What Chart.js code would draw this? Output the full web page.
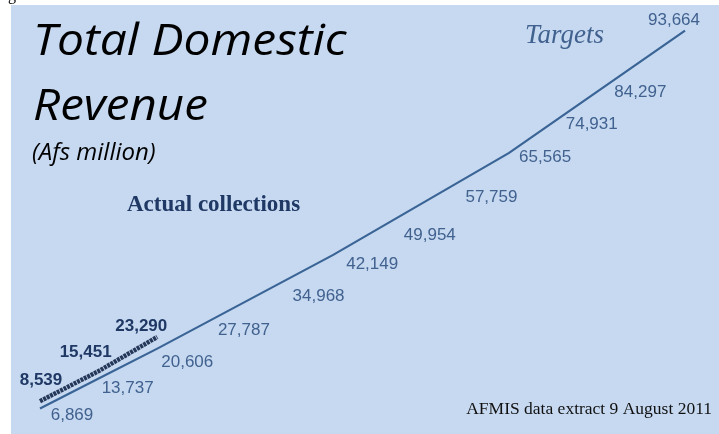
<!DOCTYPE html>
<html>
<head>
<meta charset="utf-8">
<script src="https://cdn.jsdelivr.net/npm/chart.js@4.4.0/dist/chart.umd.min.js"></script>
<style>
  html, body { margin: 0; padding: 0; background: #fff; }
  #wrap { width: 719px; height: 434px; position: relative; }
</style>
</head>
<body>
<div id="wrap"><canvas id="revenueChart" width="719" height="434"></canvas></div>
<script>
// periods along the x axis (12 target steps, actuals cover the first 3)
const periods = ['1', '2', '3', '4', '5', '6', '7', '8', '9', '10', '11', '12'];
const targets = [6869, 13737, 20606, 27787, 34968, 42149, 49954, 57759, 65565, 74931, 84297, 93664];
const actuals = [8539, 15451, 23290];

// where each value label sits relative to its point (px)
const targetLabelShift = [[32, 7], [29, 10], [30, 14], [28, 13], [44, 10], [39, 9], [38, 14], [41, 10], [36, 4], [24, 12], [14, 21], [-11, -10]];
const actualLabelShift = [[1, -21], [-13, -19], [-16, -11]];

const fmt = v => v.toLocaleString('en-US');

const panel = {
    id: 'panel',
    beforeDraw(chart) {
        const c = chart.ctx;
        c.save();
        c.fillStyle = '#ffffff';
        c.fillRect(0, 0, chart.width, chart.height);
        c.fillStyle = '#c6d9f0';
        c.fillRect(11, 5, chart.width - 11, chart.height - 5);
        // tail of a letter from the line above
        c.fillStyle = '#000';
        c.font = '16px "Liberation Serif"';
        c.textBaseline = 'alphabetic';
        c.fillText('g', 8, 0);
        c.restore();
    },
    afterDatasetsDraw(chart) {
        const c = chart.ctx;
        c.save();
        c.textAlign = 'center';
        c.textBaseline = 'middle';

        c.font = '17px "Liberation Sans"';
        c.fillStyle = '#41618f';
        chart.getDatasetMeta(0).data.forEach((pt, i) => {
            const [dx, dy] = targetLabelShift[i];
            c.fillText(fmt(targets[i]), pt.x + dx, pt.y + dy);
        });

        c.font = 'bold 17px "Liberation Sans"';
        c.fillStyle = '#1f3864';
        chart.getDatasetMeta(1).data.forEach((pt, i) => {
            const [dx, dy] = actualLabelShift[i];
            c.fillText(fmt(actuals[i]), pt.x + dx, pt.y + dy);
        });

        // titles and notes
        c.textAlign = 'left';
        c.textBaseline = 'alphabetic';
        c.fillStyle = '#000';
        c.font = 'italic 44px "Open Sans"';
        c.save();
        c.translate(33, 55);
        c.scale(1.09, 1);
        c.fillText('Total Domestic', 0, 0);
        c.restore();
        c.save();
        c.translate(33, 120);
        c.scale(1.08, 1);
        c.fillText('Revenue', 0, 0);
        c.restore();
        c.font = 'italic 24px "Open Sans"';
        c.fillText('(Afs million)', 32, 160);

        c.fillStyle = '#1f3864';
        c.font = 'bold 23px "Liberation Serif"';
        c.fillText('Actual collections', 127, 211);

        c.fillStyle = '#41618f';
        c.font = 'italic 27px "Liberation Serif"';
        c.fillText('Targets', 525, 43);

        c.fillStyle = '#111';
        c.font = '17.5px "Liberation Serif"';
        c.textAlign = 'right';
        c.fillText('AFMIS data extract 9 August 2011', 712, 414);
        c.restore();
    }
};

const ctx = document.getElementById('revenueChart').getContext('2d');
new Chart(ctx, {
    type: 'line',
    data: {
        labels: periods,
        datasets: [{
            label: 'Targets',
            data: targets,
            borderColor: '#3a6496',
            borderWidth: 2.2,
            pointRadius: 0,
            tension: 0
        }, {
            label: 'Actual collections',
            data: actuals,
            borderColor: '#26385a',
            borderWidth: 4.5,
            borderDash: [3, 0.8],
            pointRadius: 0,
            tension: 0
        }]
    },
    options: {
        responsive: false,
        animation: false,
        layout: { padding: { left: 40, right: 34, top: 3, bottom: 0 } },
        plugins: {
            legend: { display: false },
            tooltip: { enabled: false }
        },
        scales: {
            x: { display: false, offset: false },
            y: { display: false, min: 1000, max: 100000 }
        }
    },
    plugins: [panel]
});
</script>
</body>
</html>
